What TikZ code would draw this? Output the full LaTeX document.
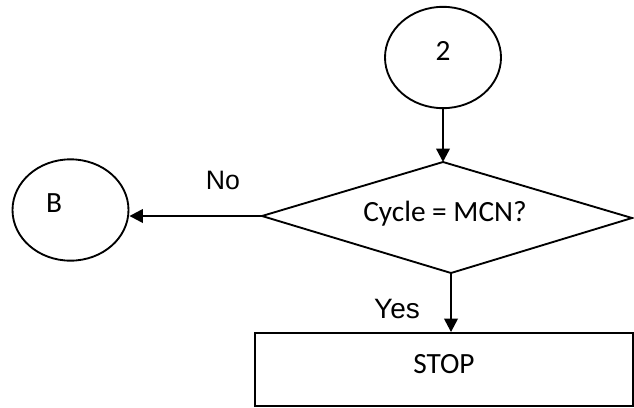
\documentclass[tikz,border=0pt]{standalone}
\usepackage{fontspec}
\setmainfont{Carlito}
\newfontfamily\arialfont{Liberation Sans}
\usetikzlibrary{shapes.geometric,arrows.meta}

\begin{document}
\begin{tikzpicture}[x=0.75pt, y=-0.75pt, font=\fontsize{22}{26}\selectfont,
    oval/.style={ellipse, draw, line width=1.4pt, minimum width=87pt, minimum height=76pt, inner sep=0pt},
    flowline/.style={line width=1.8pt, -{Triangle[length=10pt,width=10pt]}}]
    \useasboundingbox (0,0) rectangle (634,407);
    % connectors
    \node[oval] (two) at (443,57.5) {};
    \node (twotext) at (443,51) {2};
    \node[oval] (b) at (70.5,210) {};
    \node (btext) at (54,203) {B};
    % decision
    \coordinate (dtop) at (443,162);
    \coordinate (dright) at (632,218);
    \coordinate (dbot) at (451,273);
    \coordinate (dleft) at (262,216);
    \draw[line width=1.4pt, line join=miter] (dtop) -- (dright) -- (dbot) -- (dleft) -- cycle;
    \node (test) at (445,214) {Cycle = MCN?};
    % stop box
    \node[draw, line width=1.4pt, minimum width=283.5pt, minimum height=54.75pt, inner sep=0pt] (stop) at (444,369.5) {};
    \node (stoptext) at (444,364) {STOP};
    \node[font=\arialfont\fontsize{20}{24}\selectfont] (no) at (223,180) {No};
    \node[font=\arialfont\fontsize{21}{25}\selectfont] (yes) at (397,309) {Yes};
    \draw[flowline] (two.south) -- (dtop);
    \draw[flowline] (dleft) -- (dleft -| b.east);
    \draw[flowline] (dbot) -- (dbot |- stop.north);
  \end{tikzpicture}
\end{document}
